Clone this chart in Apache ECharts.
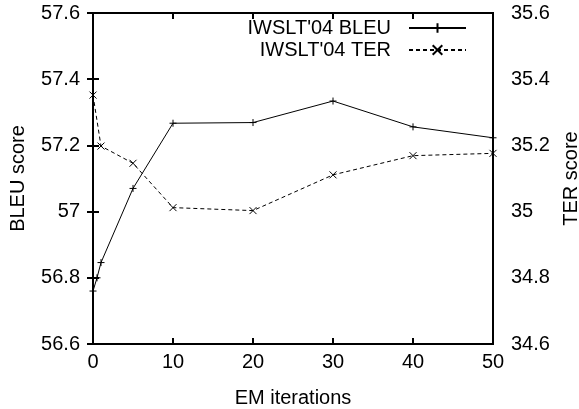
<!DOCTYPE html>
<html>
<head>
<meta charset="utf-8">
<script src="https://cdn.jsdelivr.net/npm/echarts@6/dist/echarts.min.js"></script>
<style>
html,body{margin:0;padding:0;background:#fff;}
#chart{width:579px;height:409px;}
</style>
</head>
<body>
<div id="chart"></div>
<script>
// Data
var bleuX = [0, 0.5, 1, 5, 10, 20, 30, 40, 50];
var bleuY = [56.76, 56.80, 56.846, 57.07, 57.267, 57.269, 57.334, 57.256, 57.223];
var terX = [0, 1, 5, 10, 20, 30, 40, 50];
var terY = [35.352, 35.198, 35.146, 35.012, 35.003, 35.111, 35.169, 35.176];
var seriesNames = ["IWSLT'04 BLEU", "IWSLT'04 TER"];
var xName = 'EM iterations';
var yLeftName = 'BLEU score';
var yRightName = 'TER score';

function pairs(xs, ys) { return xs.map(function (x, i) { return [x, ys[i]]; }); }

var FONT = "'Liberation Sans', Arial, sans-serif";
var FS = 20;

var chart = echarts.init(document.getElementById('chart'), null, {renderer: 'canvas'});
chart.setOption({
  animation: false,
  backgroundColor: '#fff',
  textStyle: {fontFamily: FONT, color: '#000'},
  grid: {left: 93, right: 86, top: 13, bottom: 65, outerBoundsMode: 'none', containLabel: false,
         show: true, borderColor: '#000', borderWidth: 2, backgroundColor: 'transparent'},
  legend: {
    right: 112, top: 18, orient: 'vertical', align: 'right', padding: 0,
    itemWidth: 57, itemHeight: 12, itemGap: 2,
    textStyle: {fontFamily: FONT, fontSize: FS, color: '#000', lineHeight: 20, padding: [0, 13, 0, 0]},
    data: seriesNames
  },
  xAxis: [{
    type: 'value', min: 0, max: 50, interval: 10,
    name: xName, nameLocation: 'middle', nameGap: 44,
    nameTextStyle: {fontFamily: FONT, fontSize: FS, color: '#000'},
    axisLine: {show: true, lineStyle: {color: '#000', width: 2}},
    axisTick: {show: true, inside: true, length: 6, lineStyle: {color: '#000', width: 2}},
    axisLabel: {fontFamily: FONT, fontSize: FS, color: '#000', margin: 8},
    splitLine: {show: false}
  }, {
    type: 'value', min: 0, max: 50, interval: 10, position: 'top',
    axisLine: {show: true, lineStyle: {color: '#000', width: 2}},
    axisTick: {show: true, inside: true, length: 6, lineStyle: {color: '#000', width: 2}},
    axisLabel: {show: false},
    splitLine: {show: false}
  }],
  yAxis: [{
    type: 'value', min: 56.6, max: 57.6, interval: 0.2, position: 'left',
    name: yLeftName, nameLocation: 'middle', nameGap: 65,
    nameTextStyle: {fontFamily: FONT, fontSize: FS, color: '#000'},
    axisLine: {show: true, lineStyle: {color: '#000', width: 2}},
    axisTick: {show: true, inside: true, length: 6, lineStyle: {color: '#000', width: 2}},
    axisLabel: {fontFamily: FONT, fontSize: FS, color: '#000', margin: 13},
    splitLine: {show: false}
  }, {
    type: 'value', min: 34.6, max: 35.6, interval: 0.2, position: 'right',
    name: yRightName, nameLocation: 'middle', nameGap: 68,
    nameTextStyle: {fontFamily: FONT, fontSize: FS, color: '#000'},
    axisLine: {show: true, lineStyle: {color: '#000', width: 2}},
    axisTick: {show: true, inside: true, length: 6, lineStyle: {color: '#000', width: 2}},
    axisLabel: {fontFamily: FONT, fontSize: FS, color: '#000', margin: 18},
    splitLine: {show: false}
  }],
  series: [{
    name: seriesNames[0], type: 'line', xAxisIndex: 0, yAxisIndex: 0,
    data: pairs(bleuX, bleuY), clip: false,
    symbol: 'path://M0,5L10,5M5,0L5,10', symbolSize: 7,
    itemStyle: {color: '#000', borderColor: '#000', borderWidth: 1},
    lineStyle: {color: '#000', width: 1, type: 'solid'}
  }, {
    name: seriesNames[1], type: 'line', xAxisIndex: 0, yAxisIndex: 1,
    data: pairs(terX, terY), clip: false,
    symbol: 'path://M0,0L10,10M10,0L0,10', symbolSize: 7,
    itemStyle: {color: '#000', borderColor: '#000', borderWidth: 1},
    lineStyle: {color: '#000', width: 1, type: [4, 3]}
  }]
});
</script>
</body>
</html>
